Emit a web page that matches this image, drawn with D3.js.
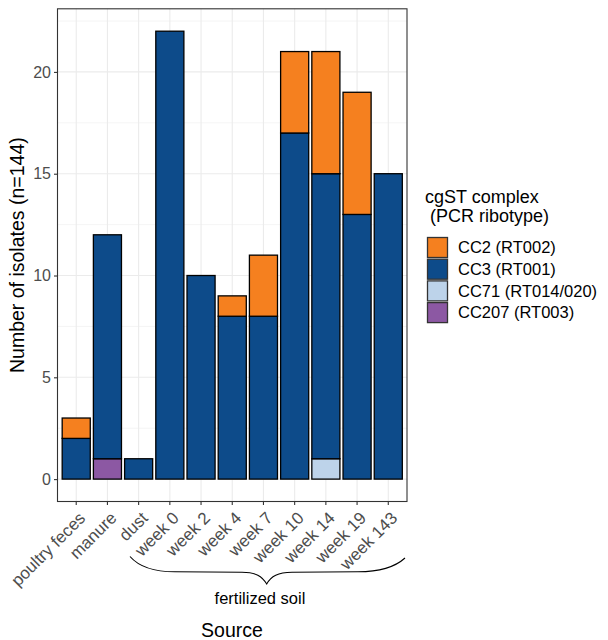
<!DOCTYPE html>
<html>
<head>
<meta charset="utf-8">
<script src="https://cdn.jsdelivr.net/npm/d3@7"></script>
<style>
html,body{margin:0;padding:0;background:#fff;}
svg{display:block;font-family:"Liberation Sans",Arial,Helvetica,sans-serif;}
</style>
</head>
<body>
<svg id="chart" width="608" height="640"></svg>
<script>
const categories = ["poultry feces","manure","dust","week 0","week 2","week 4","week 7","week 10","week 14","week 19","week 143"];
const cc207 = [0,1,0,0,0,0,0,0,0,0,0];
const cc71  = [0,0,0,0,0,0,0,0,1,0,0];
const cc3   = [2,11,1,22,10,8,8,17,14,13,15];
const cc2   = [1,0,0,0,0,1,3,4,6,6,0];
const seriesKeys = ["CC207","CC71","CC3","CC2"];
const seriesLabels = {CC2:"CC2 (RT002)",CC3:"CC3 (RT001)",CC71:"CC71 (RT014/020)",CC207:"CC207 (RT003)"};
const colors = {CC2:"#F5801F",CC3:"#0D4B8A",CC71:"#BDD3EA",CC207:"#8C58A3"};
const legendOrder = ["CC2","CC3","CC71","CC207"];
const yTicks = [0,5,10,15,20];
const yMinor = [2.5,7.5,12.5,17.5,22.5];

const table = categories.map((c,i)=>({cat:c,CC207:cc207[i],CC71:cc71[i],CC3:cc3[i],CC2:cc2[i]}));

const svg = d3.select("#chart");
const L = 57.5, R = 407, T = 8.8, B = 501.5;

const x = d3.scaleBand().domain(categories).range([L,R]).paddingInner(0.1).paddingOuter(0.15);
const y = d3.scaleLinear().domain([-1.1,23.1]).range([B,T]);

// grid
const g = svg.append("g");
g.selectAll(".minor").data(yMinor).enter().append("line")
  .attr("x1",L).attr("x2",R).attr("y1",d=>y(d)).attr("y2",d=>y(d))
  .attr("stroke","#EBEBEB").attr("stroke-width",0.55);
g.selectAll(".major").data(yTicks).enter().append("line")
  .attr("x1",L).attr("x2",R).attr("y1",d=>y(d)).attr("y2",d=>y(d))
  .attr("stroke","#EBEBEB").attr("stroke-width",1.1);
g.selectAll(".vmajor").data(categories).enter().append("line")
  .attr("x1",d=>x(d)+x.bandwidth()/2).attr("x2",d=>x(d)+x.bandwidth()/2).attr("y1",T).attr("y2",B)
  .attr("stroke","#EBEBEB").attr("stroke-width",1.1);

// bars
const stacked = d3.stack().keys(seriesKeys)(table);
stacked.forEach(s=>{
  svg.append("g").selectAll("rect").data(s.filter(d=>d[1]>d[0])).enter().append("rect")
    .attr("x",d=>x(d.data.cat))
    .attr("width",x.bandwidth())
    .attr("y",d=>y(d[1]))
    .attr("height",d=>y(d[0])-y(d[1]))
    .attr("fill",colors[s.key])
    .attr("stroke","#000").attr("stroke-width",1.3);
});

// panel border
svg.append("rect").attr("x",L).attr("y",T).attr("width",R-L).attr("height",B-T)
  .attr("fill","none").attr("stroke","#333333").attr("stroke-width",1.1);

// y axis
const yAxis = svg.append("g").attr("transform",`translate(${L},0)`)
  .call(d3.axisLeft(y).tickValues(yTicks).tickSize(3.5).tickPadding(3));
yAxis.select(".domain").remove();
yAxis.selectAll("line").attr("stroke","#333333").attr("stroke-width",1.1);
yAxis.selectAll("text").attr("fill","#4D4D4D").style("font-size","16px").style("font-family","Liberation Sans, Arial, sans-serif");

// x axis
const xAxis = svg.append("g").attr("transform",`translate(0,${B})`)
  .call(d3.axisBottom(x).tickSize(3.5).tickFormat(""));
xAxis.select(".domain").remove();
xAxis.selectAll("line").attr("stroke","#333333").attr("stroke-width",1.1);

svg.append("g").selectAll("text").data(categories).enter().append("text")
  .attr("transform",d=>`translate(${x(d)+x.bandwidth()/2+1.5},${B+9}) rotate(-45)`)
  .attr("text-anchor","end").attr("dy","0.72em")
  .attr("fill","#4D4D4D").style("font-size","17px")
  .text(d=>d);

// brace
svg.append("path")
  .attr("d","M130,556.5 C140,568 155,571.8 175,571.8 L242,572.2 C256,572.4 262,576 266.7,584 C271,576 278,572.4 292,572.2 L358,571.8 C378,571.8 394,568 405,558")
  .attr("fill","none").attr("stroke","#000").attr("stroke-width",1.1);
svg.append("text").attr("x",260).attr("y",603.5).attr("text-anchor","middle")
  .style("font-size","16.5px").attr("fill","#000").text("fertilized soil");

// axis titles
svg.append("text").attr("x",232).attr("y",636.5).attr("text-anchor","middle")
  .style("font-size","19.5px").attr("fill","#000").text("Source");
svg.append("text").attr("transform",`translate(24,${(T+B)/2}) rotate(-90)`)
  .attr("text-anchor","middle").style("font-size","19.5px").attr("fill","#000")
  .text("Number of isolates (n=144)");

// legend
const lg = svg.append("g");
const lt = lg.append("text").attr("x",425).attr("y",203).style("font-size","18px").attr("fill","#000").attr("xml:space","preserve");
lt.append("tspan").attr("x",425).attr("y",203).text("cgST complex");
lt.append("tspan").attr("x",425).attr("y",221.5).text(" (PCR ribotype)");
legendOrder.forEach((k,i)=>{
  const ky = 237.5 + i*21.7;
  lg.append("rect").attr("x",427.5).attr("y",ky).attr("width",20).attr("height",20)
    .attr("fill",colors[k]).attr("stroke","#333333").attr("stroke-width",1.3);
  lg.append("text").attr("x",458).attr("y",ky+15.8).style("font-size","16.5px").attr("fill","#000").text(seriesLabels[k]);
});
</script>
</body>
</html>
